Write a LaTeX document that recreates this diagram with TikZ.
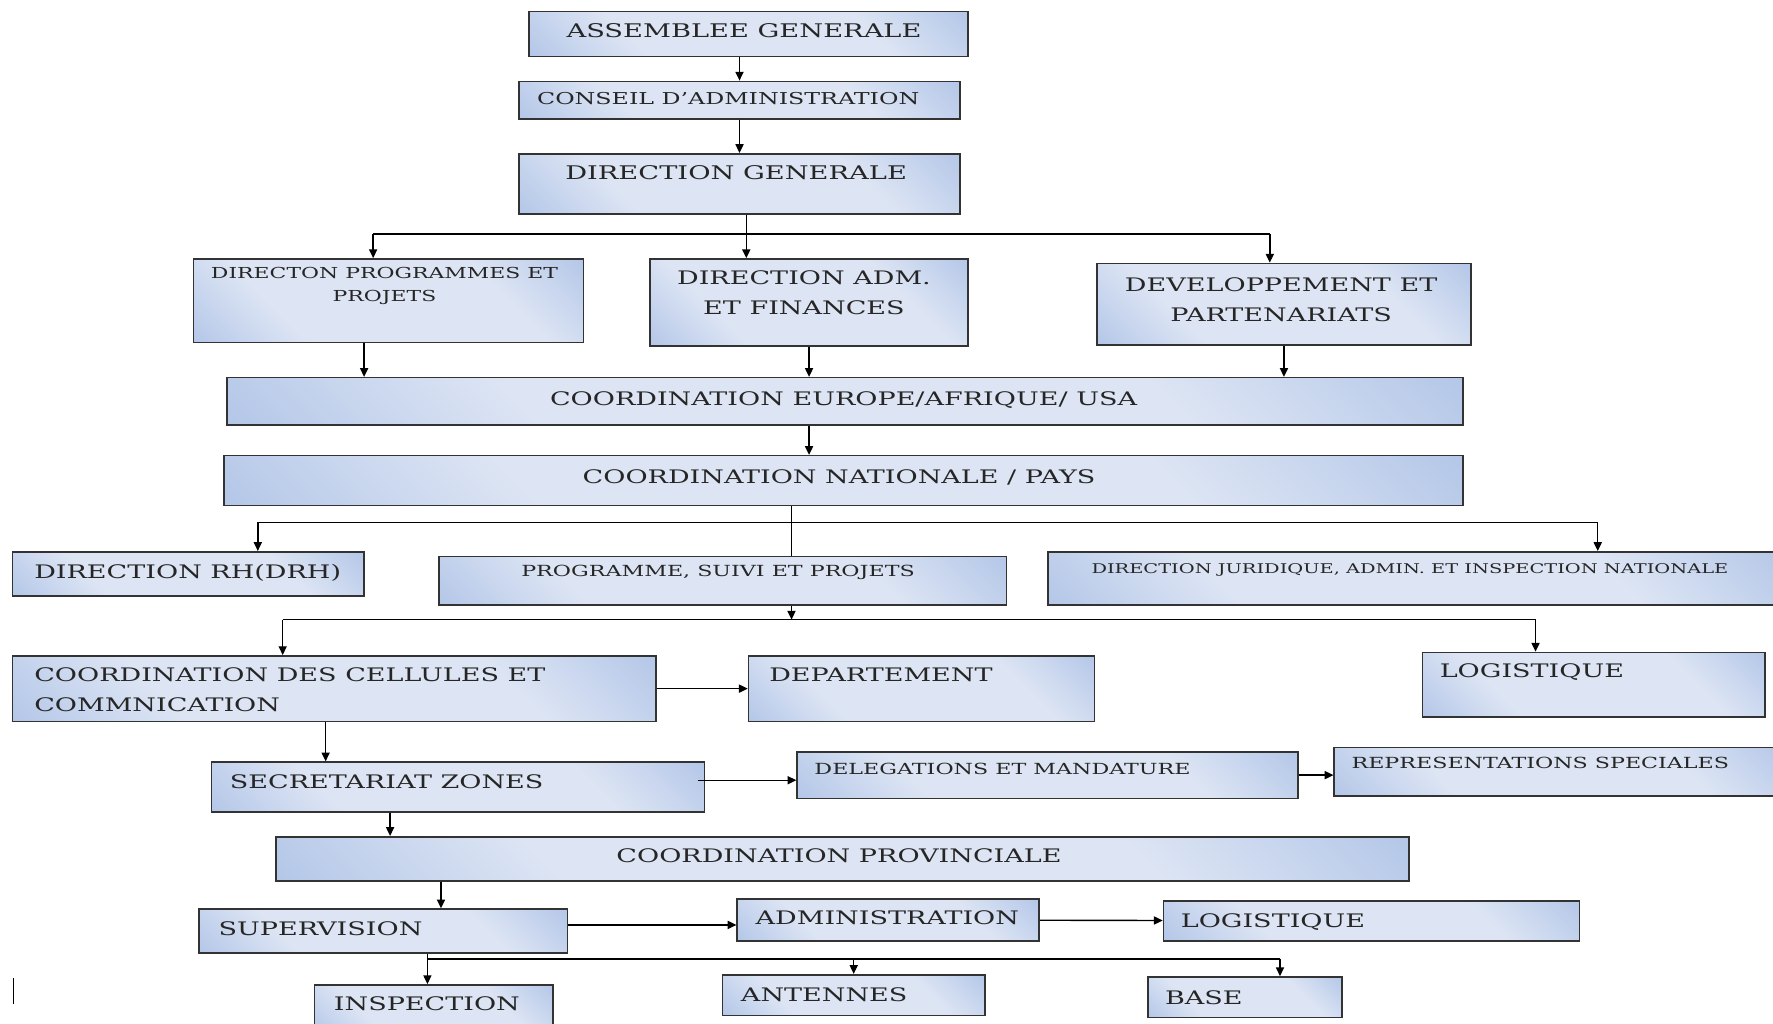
\documentclass[tikz,border=0pt]{standalone}
\usepackage{fontspec}
\newfontfamily\orgfont[FakeStretch=1.45]{DejaVu Serif}
\usepackage{xcolor}
\usetikzlibrary{positioning, arrows.meta, fit}
\definecolor{boxblue}{RGB}{146,174,222}
\definecolor{boxlight}{RGB}{221,229,244}
\pgfdeclareverticalshading{orgshade}{100bp}{
    color(0bp)=(boxblue); color(32bp)=(boxlight);
    color(68bp)=(boxlight); color(100bp)=(boxblue)}

\begin{document}
\begin{tikzpicture}[
    x=0.0226cm, y=-0.0226cm,
    box/.style={
        draw=black!80, line width=0.9pt, inner sep=0pt,
        shading=orgshade, shading angle=-45
    },
    lbl/.style={inner sep=0pt, text=black!85},
    big/.style={lbl, font=\orgfont\fontsize{10.7pt}{17pt}\selectfont, text height=7.8pt, text depth=0pt},
    mid/.style={lbl, font=\orgfont\fontsize{10.6pt}{16.7pt}\selectfont, text height=7.7pt, text depth=0pt},
    sml/.style={lbl, font=\orgfont\fontsize{8.7pt}{13.5pt}\selectfont, text height=6.3pt, text depth=0pt},
    tny/.style={lbl, font=\orgfont\fontsize{7.6pt}{10pt}\selectfont, text height=5.5pt, text depth=0pt},
    mid2/.style={lbl, font=\orgfont\fontsize{10.6pt}{16.7pt}\selectfont},
    sml2/.style={lbl, font=\orgfont\fontsize{8.6pt}{13.5pt}\selectfont},
    arr/.style={-{Triangle[length=5pt,width=4.6pt]}, line width=0.8pt},
    ln/.style={line width=0.8pt},
]
\useasboundingbox (0,0) rectangle (1568,905);

% Top of the chart
\node[box, fit={(468,10) (856,50)}] (ag) {};
\node[big] (ag-t) at (658,27) {ASSEMBLEE GENERALE};
\node[box, fit={(459,72) (849,105)}] (cons) {};
\node[sml, font=\orgfont\fontsize{9.3pt}{14pt}\selectfont, text height=6.8pt] (cons-t) at (644,87) {CONSEIL D’ADMINISTRATION};
\node[box, fit={(459,136) (849,189)}] (dg) {};
\node[big] (dg-t) at (651,153) {DIRECTION GENERALE};

% Directions
\node[box, fit={(171,229) (516,303)}] (dprog) {};
\node[sml2, align=center] (dprog-t) at (340,253) {DIRECTON PROGRAMMES ET\\PROJETS};
\node[box, fit={(575,229) (856,306)}] (dadm) {};
\node[mid2, align=center] (dadm-t) at (711,259) {DIRECTION ADM.\\ET FINANCES};
\node[box, fit={(970,233) (1301,305)}] (ddev) {};
\node[mid2, align=center] (ddev-t) at (1133,265) {DEVELOPPEMENT ET\\PARTENARIATS};

% Coordinations
\node[box, fit={(201,334) (1294,376)}] (ceur) {};
\node[mid] (ceur-t) at (746,353) {COORDINATION EUROPE/AFRIQUE/ USA};
\node[box, fit={(198,403) (1294,447)}] (cnat) {};
\node[mid] (cnat-t) at (742,422) {COORDINATION NATIONALE / PAYS};

% National level
\node[box, fit={(11,488) (322,527)}] (drh) {};
\node[mid, anchor=west] (drh-t) at (30,506) {DIRECTION RH(DRH)};
\node[box, fit={(388,492) (890,535)}] (prog) {};
\node[sml] (prog-t) at (635,505) {PROGRAMME, SUIVI ET PROJETS};
\node[box, fit={(927,488) (1580,535)}] (juri) {};
\node[tny, anchor=west] (juri-t) at (965,503) {DIRECTION JURIDIQUE, ADMIN. ET INSPECTION NATIONALE};

\node[box, fit={(11,580) (580,638)}] (cell) {};
\node[mid2, align=left, anchor=west] (cell-t) at (30,610) {COORDINATION DES CELLULES ET\\COMMNICATION};
\node[box, fit={(662,580) (968,638)}] (dept) {};
\node[mid, anchor=west] (dept-t) at (680,597) {DEPARTEMENT};
\node[box, fit={(1258,577) (1561,634)}] (logi) {};
\node[mid, anchor=west] (logi-t) at (1273,593) {LOGISTIQUE};

\node[box, fit={(187,674) (623,718)}] (secr) {};
\node[mid, anchor=west] (secr-t) at (203,691) {SECRETARIAT ZONES};
\node[box, fit={(705,665) (1148,706)}] (deleg) {};
\node[sml, anchor=west] (deleg-t) at (720,680) {DELEGATIONS ET MANDATURE};
\node[box, fit={(1180,661) (1580,704)}] (repr) {};
\node[sml, anchor=west] (repr-t) at (1195,675) {REPRESENTATIONS SPECIALES};

% Provincial level
\node[box, fit={(244,740) (1246,779)}] (cprov) {};
\node[mid] (cprov-t) at (742,757) {COORDINATION PROVINCIALE};

\node[box, fit={(176,804) (502,843)}] (sup) {};
\node[mid, anchor=west] (sup-t) at (193,821) {SUPERVISION};
\node[box, fit={(652,795) (919,832)}] (adm) {};
\node[mid, anchor=west] (adm-t) at (668,812) {ADMINISTRATION};
\node[box, fit={(1029,797) (1397,832)}] (logp) {};
\node[mid, anchor=west] (logp-t) at (1044,814) {LOGISTIQUE};

\node[box, fit={(278,871) (489,915)}] (insp) {};
\node[mid, anchor=west] (insp-t) at (295,888) {INSPECTION};
\node[box, fit={(639,862) (871,898)}] (ante) {};
\node[mid, anchor=west] (ante-t) at (655,880) {ANTENNES};
\node[box, fit={(1015,864) (1187,900)}] (base) {};
\node[mid, anchor=west] (base-t) at (1030,882) {BASE};

% Junctions
\coordinate (dg-bus) at (660,207);
\coordinate (dg-busl) at (330,207);
\coordinate (dg-busr) at (1123,207);
\coordinate (dprog-out) at (322,320);
\coordinate (cn-bus) at (700,462);
\coordinate (cn-busl) at (228,462);
\coordinate (cn-busr) at (1413,462);
\coordinate (pg-bus) at (700,548);
\coordinate (pg-busl) at (250,548);
\coordinate (pg-busr) at (1358,548);
\coordinate (cell-out) at (288,655);
\coordinate (secr-right) at (617,690);
\coordinate (secr-out) at (345,730);
\coordinate (cp-out) at (390,790);
\coordinate (sup-right) at (502,818);
\coordinate (sp-bus) at (378,848);
\coordinate (sp-busr) at (1132,848);

% Arrows: top
\draw[arr] (ag.south -| cons) -- (cons.north);
\draw[arr] (cons) -- (dg);
\draw[arr] (dg.south -| dg-bus) -- (dadm.north -| dg-bus);
\draw[ln] (dg-busl) -- (dg-busr);
\draw[arr] (dg-busl) -- (dg-busl |- dprog.north);
\draw[arr] (dg-busr) -- (dg-busr |- ddev.north);

% Directions -> coordinations
\draw[arr] (dprog.south -| dprog-out) -- (ceur.north -| dprog-out);
\draw[arr] (dadm.south) -- (dadm.south |- ceur.north);
\draw[arr] (ddev.south) -- (ddev.south |- ceur.north);
\draw[arr] (ceur.south -| dadm) -- (cnat.north -| dadm);

% National level
\draw[ln] (cnat.south -| cn-bus) -- (prog.north -| cn-bus);
\draw[ln] (cn-busl) -- (cn-busr);
\draw[arr] (cn-busl) -- (cn-busl |- drh.north);
\draw[arr] (cn-busr) -- (cn-busr |- juri.north);

\draw[arr] (prog.south -| pg-bus) -- (pg-bus);
\draw[ln] (pg-busl) -- (pg-busr);
\draw[arr] (pg-busl) -- (pg-busl |- cell.north);
\draw[arr] (pg-busr) -- (pg-busr |- logi.north);

\draw[arr] (cell) -- (dept);
\draw[arr] (cell.south -| cell-out) -- (secr.north -| cell-out);
\draw[arr] (secr-right) -- (secr-right -| deleg.west);
\draw[arr] (deleg.east) -- (deleg.east -| repr.west);
\draw[arr] (secr.south -| secr-out) -- (cprov.north -| secr-out);

% Provincial level
\draw[arr] (cprov.south -| cp-out) -- (sup.north -| cp-out);
\draw[arr] (sup-right) -- (sup-right -| adm.west);
\draw[arr] (adm) -- (logp);
\draw[arr] (sup.south -| sp-bus) -- (insp.north -| sp-bus);
\draw[ln] (sp-bus) -- (sp-busr);
\draw[arr] (sp-bus -| ante) -- (ante.north);
\draw[arr] (sp-busr) -- (sp-busr |- base.north);

% stray cursor mark
\draw[line width=0.6pt] (12,865) -- (12,888);

\end{tikzpicture}
\end{document}
